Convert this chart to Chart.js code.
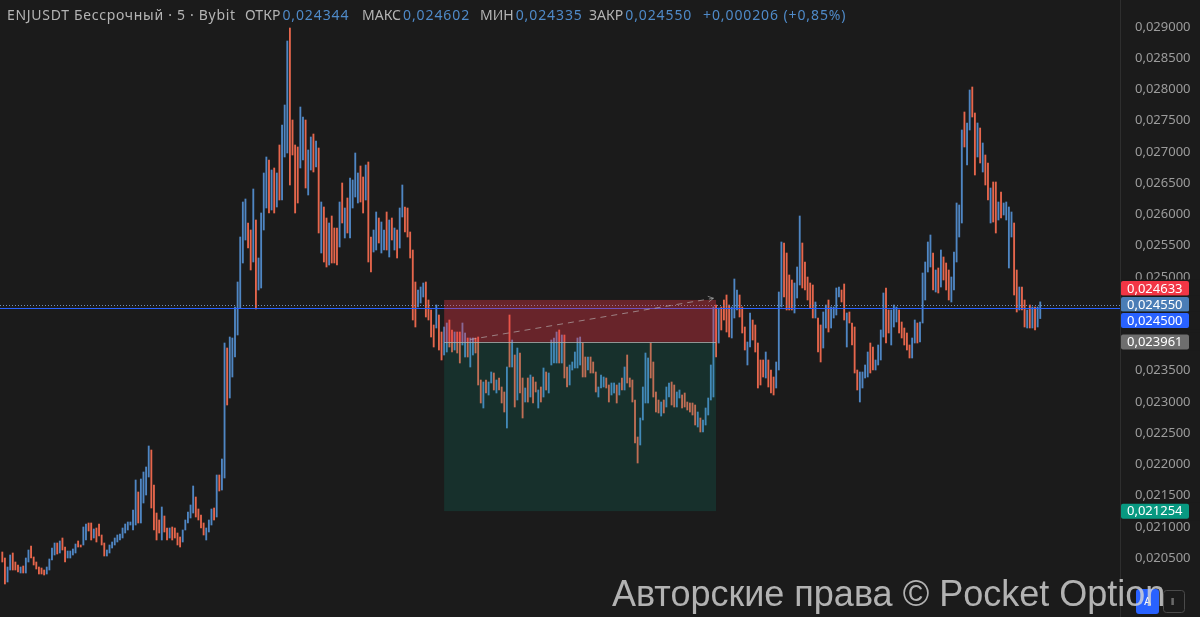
<!DOCTYPE html>
<html>
<head>
<meta charset="utf-8">
<title>ENJUSDT 5</title>
<script src="https://cdn.jsdelivr.net/npm/chart.js@4.4.0/dist/chart.umd.min.js"></script>
<style>
  html, body { margin: 0; padding: 0; background: #1b1b1b; overflow: hidden; }
  #wrap { width: 1200px; height: 617px; position: relative; }
</style>
</head>
<body>
<div id="wrap"><canvas id="myChart"></canvas></div>
<script>
//bars, 5 min, high and low of every bar
const highs = [
  0.020600,0.020504,0.020360,0.020552,0.020584,0.020440,0.020392,0.020360,0.020376,0.020504,
  0.020632,0.020696,0.020520,0.020440,0.020360,0.020344,0.020312,0.020360,0.020488,0.020664,
  0.020744,0.020744,0.020776,0.020824,0.020680,0.020616,0.020616,0.020648,0.020728,0.020776,
  0.020712,0.021000,0.021048,0.021064,0.021064,0.020968,0.020984,0.021048,0.020872,0.020744,
  0.020632,0.020712,0.020760,0.020824,0.020872,0.020888,0.020984,0.021048,0.021080,0.021080,
  0.021272,0.021752,0.021560,0.021768,0.021880,0.021960,0.022296,0.022232,0.021672,0.021224,
  0.021112,0.021320,0.021176,0.020984,0.020984,0.021000,0.020984,0.020904,0.020840,0.020952,
  0.021112,0.021240,0.021352,0.021656,0.021480,0.021288,0.021192,0.021064,0.020984,0.021112,
  0.021288,0.021304,0.021832,0.021832,0.022088,0.023944,0.023864,0.024040,0.024024,0.024520,
  0.024920,0.025640,0.026200,0.026248,0.025864,0.025752,0.026408,0.025912,0.025304,0.026024,
  0.026664,0.026920,0.026872,0.026712,0.026744,0.026664,0.027112,0.027432,0.027752,0.028776,
  0.028984,0.027512,0.027112,0.027080,0.027720,0.027560,0.027512,0.027032,0.027240,0.027288,
  0.027176,0.027064,0.026200,0.026120,0.025944,0.025864,0.025976,0.025784,0.025784,0.026200,
  0.026504,0.026104,0.026264,0.026584,0.026552,0.026984,0.026664,0.026776,0.026600,0.026792,
  0.026840,0.025640,0.025752,0.026040,0.025944,0.025880,0.025752,0.026040,0.025912,0.025944,
  0.025784,0.025752,0.026104,0.026472,0.026120,0.026104,0.025720,0.025432,0.024920,0.024792,
  0.024840,0.024904,0.024920,0.024632,0.024472,0.024232,0.024552,0.024392,0.024120,0.024200,
  0.024264,0.024312,0.024152,0.024120,0.024120,0.024120,0.024264,0.024104,0.024024,0.024024,
  0.024024,0.024024,0.024040,0.023352,0.023320,0.023352,0.023320,0.023480,0.023464,0.023352,
  0.023384,0.023240,0.023160,0.023560,0.024392,0.023992,0.023752,0.023864,0.023784,0.023384,
  0.023224,0.023384,0.023432,0.023400,0.023320,0.023192,0.023240,0.023544,0.023480,0.023464,
  0.023992,0.024024,0.024120,0.024152,0.024072,0.024072,0.023560,0.023592,0.023640,0.023800,
  0.024024,0.024040,0.023944,0.023720,0.023720,0.023720,0.023640,0.023480,0.023240,0.023432,
  0.023400,0.023384,0.023272,0.023304,0.023304,0.023272,0.023304,0.023384,0.023560,0.023752,
  0.023384,0.023352,0.023032,0.022440,0.022744,0.023240,0.023784,0.023704,0.023944,0.023640,
  0.023160,0.023032,0.023000,0.023032,0.023240,0.023304,0.023320,0.023272,0.023160,0.023192,
  0.023112,0.023144,0.023000,0.022984,0.022984,0.022952,0.022840,0.022744,0.022712,0.022904,
  0.023064,0.023592,0.024520,0.024552,0.024504,0.024520,0.024632,0.024712,0.024552,0.024520,
  0.024968,0.024792,0.024712,0.024520,0.024200,0.023960,0.024424,0.024312,0.024232,0.023944,
  0.023672,0.023672,0.023800,0.023672,0.023512,0.023400,0.023640,0.024760,0.025560,0.025544,
  0.025384,0.025032,0.024952,0.024904,0.025160,0.025976,0.025544,0.025240,0.025000,0.024904,
  0.024872,0.024600,0.024344,0.024232,0.024440,0.024552,0.024632,0.024520,0.024520,0.024824,
  0.024840,0.024792,0.024888,0.024424,0.024440,0.024264,0.024200,0.023512,0.023480,0.023480,
  0.023592,0.023800,0.023944,0.023880,0.023672,0.023912,0.024152,0.024744,0.024824,0.024472,
  0.024472,0.024552,0.024520,0.024472,0.024280,0.024184,0.024104,0.023912,0.024024,0.024312,
  0.024264,0.024280,0.025064,0.025240,0.025560,0.025672,0.025384,0.025112,0.025144,0.025432,
  0.025320,0.025224,0.025112,0.025000,0.025400,0.026184,0.026152,0.027352,0.027640,0.027464,
  0.027992,0.028040,0.027624,0.027464,0.027384,0.027144,0.026952,0.026824,0.026424,0.026520,
  0.026520,0.026200,0.026360,0.026184,0.026200,0.026120,0.026040,0.025864,0.025112,0.024840,
  0.024840,0.024632,0.024472,0.024552,0.024520,0.024520,0.024520,0.024602
];
const lows = [
  0.020440,0.020088,0.020120,0.020312,0.020312,0.020312,0.020280,0.020264,0.020264,0.020264,
  0.020440,0.020504,0.020392,0.020328,0.020248,0.020248,0.020232,0.020248,0.020312,0.020472,
  0.020552,0.020568,0.020584,0.020632,0.020440,0.020504,0.020504,0.020552,0.020584,0.020680,
  0.020680,0.020712,0.020792,0.020936,0.020792,0.020824,0.020760,0.020856,0.020712,0.020536,
  0.020536,0.020584,0.020664,0.020712,0.020760,0.020792,0.020824,0.020904,0.020952,0.021032,
  0.020952,0.021032,0.021064,0.021064,0.021384,0.021512,0.021800,0.021304,0.020952,0.020792,
  0.020904,0.020792,0.020920,0.020792,0.020824,0.020792,0.020824,0.020712,0.020680,0.020760,
  0.020952,0.021064,0.021144,0.021224,0.021160,0.021112,0.020984,0.020872,0.020792,0.020920,
  0.021032,0.021112,0.021160,0.021576,0.021592,0.021784,0.022952,0.023064,0.023400,0.023720,
  0.024072,0.024504,0.025224,0.025592,0.025464,0.025112,0.025240,0.024488,0.024792,0.024824,
  0.025752,0.026104,0.026024,0.026072,0.026024,0.026120,0.026232,0.026232,0.026920,0.026984,
  0.026472,0.026952,0.026024,0.026184,0.026744,0.026872,0.026424,0.026312,0.026712,0.026680,
  0.026760,0.025704,0.025384,0.025240,0.025160,0.025192,0.025224,0.025224,0.025192,0.025480,
  0.025864,0.025624,0.025704,0.025624,0.026104,0.026280,0.026184,0.026200,0.026024,0.026232,
  0.025240,0.025080,0.025400,0.025432,0.025544,0.025384,0.025432,0.025432,0.025320,0.025592,
  0.025432,0.025304,0.025464,0.025960,0.025720,0.025640,0.025304,0.024312,0.024200,0.024520,
  0.024584,0.024680,0.024360,0.024312,0.024040,0.023880,0.024184,0.023832,0.023672,0.023752,
  0.023800,0.023880,0.023800,0.023832,0.023784,0.023624,0.023912,0.023720,0.023720,0.023560,
  0.023752,0.023784,0.023272,0.022984,0.022904,0.023144,0.023112,0.023304,0.023192,0.023144,
  0.023192,0.022984,0.022840,0.022584,0.023560,0.023560,0.022920,0.023032,0.023144,0.022744,
  0.023000,0.023000,0.023080,0.022984,0.023160,0.022904,0.023000,0.023080,0.023192,0.023144,
  0.023592,0.023624,0.023624,0.023624,0.023624,0.023384,0.023240,0.023272,0.023512,0.023544,
  0.023544,0.023592,0.023400,0.023400,0.023512,0.023464,0.023464,0.023160,0.023080,0.023224,
  0.023240,0.023224,0.023000,0.023112,0.023144,0.022984,0.023112,0.023192,0.023192,0.023304,
  0.023240,0.023000,0.022344,0.022024,0.022312,0.022712,0.022984,0.022984,0.023384,0.023080,
  0.022840,0.022824,0.022776,0.022824,0.022920,0.023080,0.022952,0.022920,0.022920,0.023064,
  0.022904,0.022920,0.022872,0.022840,0.022792,0.022632,0.022600,0.022520,0.022520,0.022632,
  0.022792,0.023032,0.023080,0.023720,0.023944,0.024152,0.024312,0.024120,0.024040,0.024024,
  0.024344,0.024472,0.024360,0.024104,0.023832,0.023592,0.023880,0.023992,0.023800,0.023224,
  0.023272,0.023400,0.023384,0.023240,0.023144,0.023112,0.023224,0.023512,0.024520,0.024680,
  0.024472,0.024472,0.024472,0.024424,0.024664,0.024872,0.024824,0.024792,0.024632,0.024504,
  0.024344,0.024344,0.023800,0.023640,0.023864,0.024184,0.024120,0.024184,0.024344,0.024392,
  0.024680,0.024600,0.024312,0.023880,0.024264,0.023912,0.023464,0.023192,0.023000,0.023224,
  0.023384,0.023400,0.023464,0.023512,0.023512,0.023592,0.023672,0.024040,0.023944,0.024104,
  0.023912,0.024200,0.024280,0.024104,0.024024,0.023912,0.023832,0.023704,0.023704,0.023944,
  0.023944,0.023960,0.024264,0.024632,0.025080,0.025160,0.024792,0.024760,0.024744,0.024840,
  0.024952,0.024792,0.024632,0.024600,0.024792,0.025240,0.025640,0.025864,0.027080,0.026792,
  0.027352,0.027560,0.026632,0.026920,0.026824,0.026680,0.026472,0.026232,0.025864,0.025880,
  0.025704,0.025912,0.025944,0.025992,0.025912,0.025144,0.025640,0.024712,0.024440,0.024472,
  0.024472,0.024200,0.024184,0.024184,0.024184,0.024152,0.024200,0.024335
];
//1 = bar closed up (blue), 0 = closed down (red)
const dirs = [
  0,0,1,1,0,0,0,1,0,1, 1,0,0,0,0,0,0,1,1,1, 1,0,1,0,0,1,1,1,1,0, 0,1,1,0,0,1,0,0,0,0,
  1,1,1,1,1,1,1,1,1,1, 1,1,0,1,1,1,1,0,0,0, 0,1,0,0,1,0,0,0,0,1, 1,1,1,1,0,0,0,0,1,1,
  1,0,1,0,1,1,0,1,1,1, 1,1,1,1,0,0,1,0,1,1, 1,1,0,1,0,1,0,1,1,1, 0,0,0,0,1,1,0,1,1,0,
  1,0,1,0,0,1,0,0,0,1, 0,1,0,1,1,1,1,0,0,1, 0,0,1,1,0,1,1,0,1,0, 1,0,1,1,0,0,0,0,0,1,
  1,1,0,0,0,0,1,0,0,1, 1,0,0,1,0,0,1,1,0,1, 1,0,0,0,1,0,1,1,0,1, 0,0,0,1,0,1,0,1,0,0,
  1,0,1,0,0,1,0,1,0,1, 1,1,1,0,1,0,0,1,1,1, 1,1,0,0,1,0,0,0,1,1, 1,0,0,1,1,0,1,0,1,0,
  0,0,0,0,1,1,1,1,0,0, 0,0,1,0,1,1,0,0,1,1, 0,0,0,0,0,0,1,0,1,1, 1,1,1,0,1,0,0,0,0,1,
  1,1,0,0,0,1,1,0,0,0, 0,0,1,0,0,0,1,1,1,0, 0,0,0,1,1,1,0,0,0,0, 0,1,0,0,1,1,0,1,1,1,
  1,0,0,1,0,0,0,0,1,1, 1,1,0,0,1,1,1,1,0,0, 1,1,1,0,0,0,0,0,1,1, 0,1,1,1,1,1,0,1,0,1,
  0,0,0,1,1,1,1,1,0,1, 1,0,0,1,0,1,0,0,1,0, 0,1,0,1,1,1,1,0,0,1, 0,0,1,0,1,0,1,1
];

//last bar
const lastOpen = 0.024344, lastHigh = 0.024602, lastLow = 0.024335, lastClose = 0.024550;
const prevClose = 0.024344;
const changePct = 0.85;

//position tool (short): bar index range and price levels
const posStart = 169, posEnd = 273;
const stopPrice = 0.024633, entryPrice = 0.023961, targetPrice = 0.021254;
const arrowFrom = [179, 0.02400], arrowTo = [272, 0.02466];

//horizontal lines
const alertPrice = 0.0245;

//axis
const yMin = 0.01956, yMax = 0.029432, yStep = 0.0005, yLowestLabel = 0.0205;
const totalSlots = 428;

const upColor = '#4f86c3';
const downColor = '#e6664c';

function fmt(v) {
    return v.toFixed(6).replace('.', ',');
}

var bgPlugin = {
    id: 'bg',
    beforeDraw(chart) {
        var ctx = chart.ctx;
        ctx.save();
        ctx.fillStyle = '#1b1b1b';
        ctx.fillRect(0, 0, chart.width, chart.height);
        ctx.restore();
    }
};

// lines + position tool, above the bars
var drawingsPlugin = {
    id: 'drawings',
    afterDatasetsDraw(chart) {
        var ctx = chart.ctx, a = chart.chartArea;
        var x = chart.scales.x, y = chart.scales.y;
        ctx.save();

        // price line of last close (dotted) and blue alert line
        var yl = Math.round(y.getPixelForValue(lastClose)) + 0.5;
        ctx.strokeStyle = '#6f8db5';
        ctx.lineWidth = 1;
        ctx.setLineDash([1, 2]);
        ctx.beginPath(); ctx.moveTo(a.left - 1, yl); ctx.lineTo(a.right, yl); ctx.stroke();
        ctx.setLineDash([]);
        var ya = Math.round(y.getPixelForValue(alertPrice)) + 0.5;
        ctx.strokeStyle = '#2962ff';
        ctx.beginPath(); ctx.moveTo(a.left - 1, ya); ctx.lineTo(a.right, ya); ctx.stroke();

        // boxes
        var x0 = x.getPixelForValue(posStart), x1 = x.getPixelForValue(posEnd);
        var yS = y.getPixelForValue(stopPrice), yE = y.getPixelForValue(entryPrice), yT = y.getPixelForValue(targetPrice);
        ctx.fillStyle = 'rgba(242,54,69,0.36)';
        ctx.fillRect(x0, yS, x1 - x0, yE - yS);
        ctx.fillStyle = 'rgba(8,153,129,0.17)';
        ctx.fillRect(x0, yE, x1 - x0, yT - yE);
        ctx.strokeStyle = 'rgba(175,175,175,0.8)';
        ctx.beginPath(); ctx.moveTo(x0, Math.round(yE) + 0.5); ctx.lineTo(x1, Math.round(yE) + 0.5); ctx.stroke();

        // dashed arrow
        var ax0 = x.getPixelForValue(arrowFrom[0]), ay0 = y.getPixelForValue(arrowFrom[1]);
        var ax1 = x.getPixelForValue(arrowTo[0]), ay1 = y.getPixelForValue(arrowTo[1]);
        ctx.strokeStyle = 'rgba(190,190,190,0.6)';
        ctx.setLineDash([6, 5]);
        ctx.beginPath(); ctx.moveTo(ax0, ay0); ctx.lineTo(ax1, ay1); ctx.stroke();
        ctx.setLineDash([]);
        var ang = Math.atan2(ay1 - ay0, ax1 - ax0);
        ctx.beginPath();
        ctx.moveTo(ax1 - 6 * Math.cos(ang - 0.5), ay1 - 6 * Math.sin(ang - 0.5));
        ctx.lineTo(ax1, ay1);
        ctx.lineTo(ax1 - 6 * Math.cos(ang + 0.5), ay1 - 6 * Math.sin(ang + 0.5));
        ctx.stroke();
        ctx.restore();
    }
};

// price tags on the axis, header, watermark
var overlayPlugin = {
    id: 'overlay',
    afterDraw(chart) {
        var ctx = chart.ctx, a = chart.chartArea, y = chart.scales.y;
        ctx.save();

        var tags = [
            { price: stopPrice, color: '#f23645' },
            { price: lastClose, color: '#4a7db6' },
            { price: alertPrice, color: '#2962ff' },
            { price: entryPrice, color: '#6e6e6e' },
            { price: targetPrice, color: '#089981' }
        ];
        var h = 16;
        tags.forEach(t => { t.y = y.getPixelForValue(t.price); });
        tags.sort((p, q) => p.y - q.y);
        // group tags that overlap, spread them around their mean
        var groups = tags.map(t => ({ items: [t], c: t.y }));
        var merged = true;
        while (merged) {
            merged = false;
            for (var i = 0; i < groups.length - 1; i++) {
                var g1 = groups[i], g2 = groups[i + 1];
                var b1 = g1.c + g1.items.length * h / 2, t2 = g2.c - g2.items.length * h / 2;
                if (t2 < b1) {
                    var items = g1.items.concat(g2.items);
                    var c = items.reduce((s, t) => s + t.y, 0) / items.length;
                    groups.splice(i, 2, { items: items, c: c });
                    merged = true;
                    break;
                }
            }
        }
        ctx.font = '13px "Noto Sans"';
        ctx.textBaseline = 'middle';
        ctx.textAlign = 'left';
        groups.forEach(g => {
            var top = g.c - g.items.length * h / 2;
            g.items.forEach((t, k) => {
                var cy = top + k * h + h / 2;
                // clear the tick label underneath first
                ctx.fillStyle = '#1b1b1b';
                ctx.fillRect(a.right + 1, cy - h / 2 - 1, chart.width - a.right - 1, h + 2);
                ctx.fillStyle = t.color;
                ctx.beginPath();
                ctx.roundRect(a.right + 1, cy - h / 2 + 0.5, 68, h - 1, 2);
                ctx.fill();
                ctx.fillStyle = '#ffffff';
                ctx.fillText(fmt(t.price), a.right + 7, cy + 0.5);
            });
        });

        // header: title, then label + value pairs starting at fixed x
        ctx.font = '14px "Noto Sans"';
        ctx.letterSpacing = '0.7px';
        ctx.fillStyle = '#b4b4b4';
        ctx.fillText('ENJUSDT Бессрочный · 5 · Bybit', 7, 16);
        var pairs = [
            ['ОТКР', fmt(lastOpen), 245],
            ['МАКС', fmt(lastHigh), 362],
            ['МИН', fmt(lastLow), 480],
            ['ЗАКР', fmt(lastClose), 589],
            ['', '+' + fmt(lastClose - prevClose) + ' (+' + changePct.toFixed(2).replace('.', ',') + '%)', 703]
        ];
        pairs.forEach(p => {
            ctx.letterSpacing = '0px';
            ctx.fillStyle = '#b4b4b4';
            ctx.fillText(p[0], p[2], 16);
            var vx = p[2] + (p[0] ? ctx.measureText(p[0]).width + 2 : 0);
            ctx.letterSpacing = '0.9px';
            ctx.fillStyle = '#4f8ac8';
            ctx.fillText(p[1], vx, 16);
        });
        ctx.letterSpacing = '0px';

        // buttons bottom right
        ctx.fillStyle = '#2962ff';
        ctx.beginPath(); ctx.roundRect(1136, 589, 23, 25, 3); ctx.fill();
        ctx.strokeStyle = '#4a4a4a';
        ctx.beginPath(); ctx.roundRect(1163.5, 590.5, 21, 22, 3); ctx.stroke();
        ctx.fillStyle = '#ffffff';
        ctx.font = '11px Roboto';
        ctx.fillText('A', 1144, 602);
        ctx.fillStyle = '#c8c8c8';
        ctx.fillText('‖', 1171, 602);

        // watermark
        ctx.font = '36px "Liberation Sans"';
        ctx.textBaseline = 'alphabetic';
        ctx.fillStyle = 'rgba(212,212,212,0.82)';
        ctx.fillText('Авторские права © Pocket Option', 612, 606);
        ctx.restore();
    }
};

document.addEventListener('DOMContentLoaded', (event) => {
    var labels = [];
    for (var i = 0; i < totalSlots; i++) labels.push(i);
    var ranges = lows.map((lo, i) => [lo, highs[i]]);
    var colors = dirs.map(d => d ? upColor : downColor);

    var ctx = document.getElementById('myChart').getContext('2d');
    var chart = new Chart(ctx, {
        type: 'bar',
        data: {
            labels: labels,
            datasets: [{
                data: ranges,
                backgroundColor: colors,
                barThickness: 1.2,
                borderWidth: 0
            }]
        },
        options: {
            responsive: true,
            maintainAspectRatio: false,
            animation: false,
            layout: { padding: { left: 1, right: 0, top: 0, bottom: 0 } },
            plugins: { legend: { display: false }, tooltip: { enabled: false } },
            scales: {
                x: { display: false, offset: true },
                y: {
                    position: 'right',
                    min: yMin,
                    max: yMax,
                    grid: { display: false },
                    border: { display: true, color: '#2e2e2e' },
                    ticks: {
                        stepSize: yStep,
                        maxTicksLimit: 40,
                        includeBounds: false,
                        color: '#9c9c9c',
                        font: { family: 'Noto Sans', size: 13 },
                        padding: 7,
                        callback: (v) => fmt(v)
                    },
                    afterBuildTicks: (s) => { s.ticks = s.ticks.filter(t => t.value > yLowestLabel - 1e-9); },
                    afterFit: (s) => { s.width = 80; s.paddingTop = 0; s.paddingBottom = 0; }
                }
            }
        },
        plugins: [bgPlugin, drawingsPlugin, overlayPlugin]
    });
});
</script>
</body>
</html>
